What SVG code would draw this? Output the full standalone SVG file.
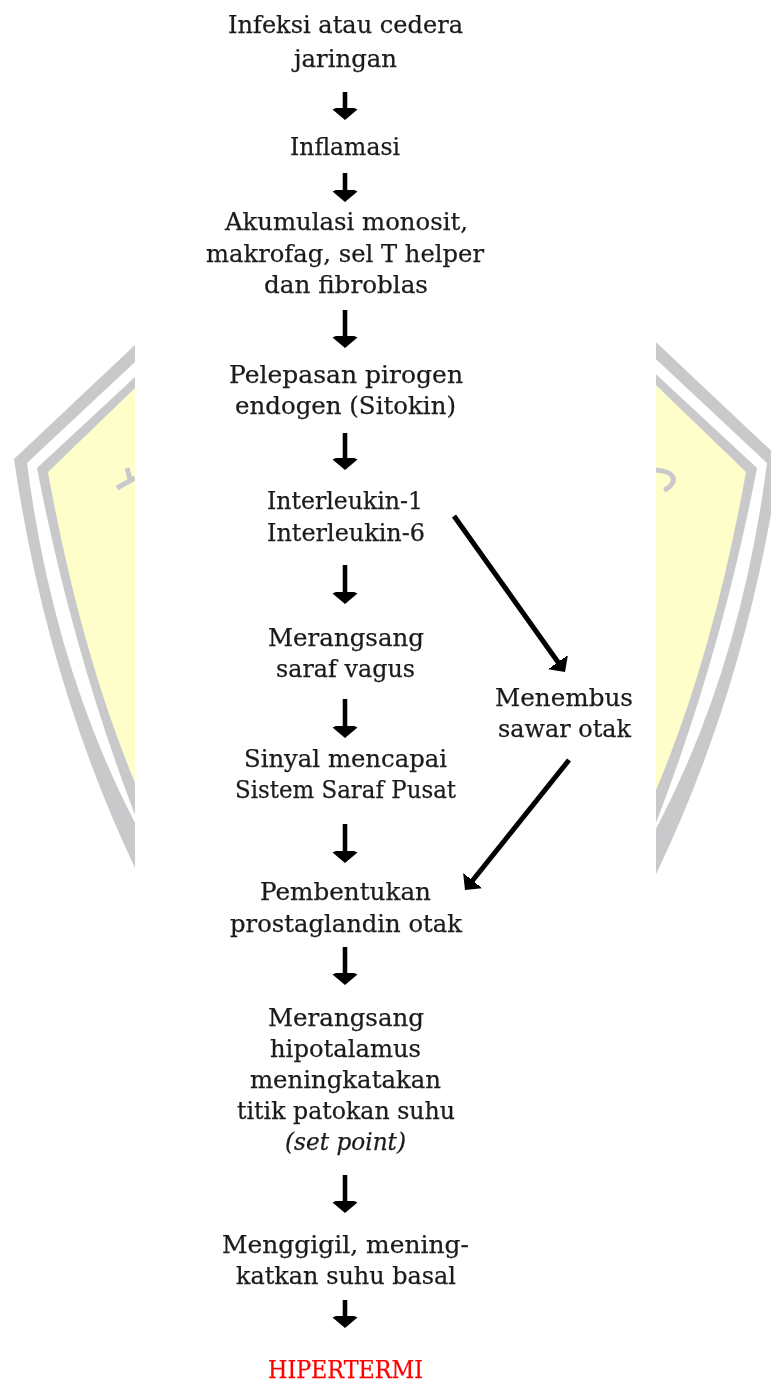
<svg xmlns="http://www.w3.org/2000/svg" width="771" height="1383" viewBox="0 0 771 1383">
<style>
.t{font-family:"DejaVu Serif","Liberation Serif",serif;font-size:24px;fill:#1a1a1a;stroke:#1a1a1a;stroke-width:0.25;text-anchor:start}
.r{fill:#f00;stroke:#f00}
.i{font-style:italic}
.g{fill:#c9c9cc}
.w{fill:#fff}
.y{fill:#fefecb}
.c{stroke:#000;stroke-width:4.600;fill:none;marker-end:url(#h)}
.c2{stroke:#000;stroke-width:5;fill:none;marker-end:url(#h2)}
.m{fill:none;stroke:#c9c9cc;stroke-width:5}
</style>
<defs>
<marker id="h" markerUnits="userSpaceOnUse" markerWidth="20" markerHeight="30" refX="4" refY="15" orient="auto"><path d="M12 15L1.500 2.500L-3 12.700V17.300L1.500 27.500Z" fill="#000"/></marker>
<marker id="h2" markerUnits="userSpaceOnUse" markerWidth="20" markerHeight="30" refX="4" refY="15" orient="auto"><path d="M12 15L0 3L-2 12.500V17.500L0 27Z" fill="#000"/></marker>
<filter id="b" x="-5%" y="-20%" width="110%" height="140%"><feGaussianBlur stdDeviation="0.45"/></filter>
<path id="s1" d="M160 321L135 345L14 459Q46 680 135 868L160 920Z"/>
<path id="s2" d="M160 338L135 362L27 463Q53 665 135 823L160 870Z"/>
<path id="s3" d="M160 353L135 377L37 468Q72 650 135 815L160 880Z"/>
<path id="s4" d="M160 365L135 388L48 472Q80 650 135 783L160 840Z"/>
</defs>
<rect width="771" height="1383" fill="#fff"/>
<g id="watermark">
<g id="shield-left"><use href="#s1" class="g"/><use href="#s2" class="w"/><use href="#s3" class="g"/><use href="#s4" class="y"/>
<path class="m" d="M127 468L130 479M117 488L135 478"/></g>
<g id="shield-right" transform="translate(794 0) scale(-1 1)"><use href="#s1" class="g"/><use href="#s2" class="w"/><use href="#s3" class="g"/><use href="#s4" class="y"/></g>
<path class="m" d="M656 470Q676 472 673 482Q670 488 664 490"/>
<rect id="mask" x="135" y="310" width="521" height="620" fill="#fff"/>
</g>
<g id="connectors">
<line class="c" x1="345" y1="92" x2="345" y2="112"/>
<line class="c" x1="345" y1="173" x2="345" y2="194"/>
<line class="c" x1="345" y1="310" x2="345" y2="340"/>
<line class="c" x1="345" y1="433" x2="345" y2="462"/>
<line class="c" x1="345" y1="565" x2="345" y2="596"/>
<line class="c" x1="345" y1="699" x2="345" y2="730"/>
<line class="c" x1="345" y1="824" x2="345" y2="855"/>
<line class="c" x1="345" y1="947" x2="345" y2="977"/>
<line class="c" x1="345" y1="1175" x2="345" y2="1205"/>
<line class="c" x1="345" y1="1300" x2="345" y2="1320"/>
<line class="c2" x1="454" y1="516" x2="560.400" y2="665.500"/>
<line class="c2" x1="569" y1="760" x2="470" y2="883.800"/>
</g>
<g filter="url(#b)">
<g id="n1"><text class="t" x="228" y="33" textLength="235" lengthAdjust="spacingAndGlyphs">Infeksi atau cedera</text><text class="t" x="294" y="67" textLength="103" lengthAdjust="spacingAndGlyphs">jaringan</text></g>
<g id="n2"><text class="t" x="290" y="155" textLength="110" lengthAdjust="spacingAndGlyphs">Inflamasi</text></g>
<g id="n3"><text class="t" x="225" y="230" textLength="243" lengthAdjust="spacingAndGlyphs">Akumulasi monosit,</text><text class="t" x="206" y="262" textLength="278" lengthAdjust="spacingAndGlyphs">makrofag, sel T helper</text><text class="t" x="264" y="293" textLength="164" lengthAdjust="spacingAndGlyphs">dan fibroblas</text></g>
<g id="n4"><text class="t" x="229" y="383" textLength="234" lengthAdjust="spacingAndGlyphs">Pelepasan pirogen</text><text class="t" x="235" y="414" textLength="221" lengthAdjust="spacingAndGlyphs">endogen (Sitokin)</text></g>
<g id="n5"><text class="t" x="267" y="509" textLength="156" lengthAdjust="spacingAndGlyphs">Interleukin-1</text><text class="t" x="267" y="541" textLength="158" lengthAdjust="spacingAndGlyphs">Interleukin-6</text></g>
<g id="n6"><text class="t" x="268" y="646" textLength="156" lengthAdjust="spacingAndGlyphs">Merangsang</text><text class="t" x="276" y="677" textLength="139" lengthAdjust="spacingAndGlyphs">saraf vagus</text></g>
<g id="n7"><text class="t" x="495" y="706" textLength="138" lengthAdjust="spacingAndGlyphs">Menembus</text><text class="t" x="498" y="737" textLength="133" lengthAdjust="spacingAndGlyphs">sawar otak</text></g>
<g id="n8"><text class="t" x="244" y="767" textLength="203" lengthAdjust="spacingAndGlyphs">Sinyal mencapai</text><text class="t" x="235" y="798" textLength="221" lengthAdjust="spacingAndGlyphs">Sistem Saraf Pusat</text></g>
<g id="n9"><text class="t" x="260" y="900" textLength="171" lengthAdjust="spacingAndGlyphs">Pembentukan</text><text class="t" x="230" y="932" textLength="232" lengthAdjust="spacingAndGlyphs">prostaglandin otak</text></g>
<g id="n10"><text class="t" x="268" y="1026" textLength="156" lengthAdjust="spacingAndGlyphs">Merangsang</text><text class="t" x="270" y="1057" textLength="151" lengthAdjust="spacingAndGlyphs">hipotalamus</text><text class="t" x="250" y="1088" textLength="191" lengthAdjust="spacingAndGlyphs">meningkatakan</text><text class="t" x="237" y="1119" textLength="218" lengthAdjust="spacingAndGlyphs">titik patokan suhu</text><text class="t i" x="285" y="1150" textLength="121" lengthAdjust="spacingAndGlyphs">(set point)</text></g>
<g id="n11"><text class="t" x="222" y="1253" textLength="247" lengthAdjust="spacingAndGlyphs">Menggigil, mening-</text><text class="t" x="236" y="1284" textLength="220" lengthAdjust="spacingAndGlyphs">katkan suhu basal</text></g>
<g id="n12"><text class="t r" x="268" y="1378" textLength="155" lengthAdjust="spacingAndGlyphs">HIPERTERMI</text></g>
</g>
</svg>
